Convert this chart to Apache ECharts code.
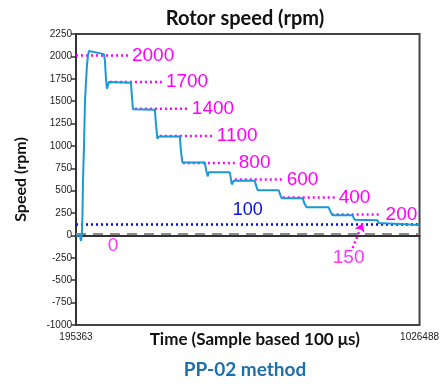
<!DOCTYPE html>
<html><head><meta charset="utf-8">
<script src="https://cdn.jsdelivr.net/npm/echarts@6/dist/echarts.min.js"></script>
<style>html,body{margin:0;padding:0;background:#fff}#c{width:442px;height:384px}</style>
</head><body><div id="c"></div>
<script>
// Main measured curve (time in samples, speed in rpm)
const timeSamples = [195363,205027,207443,209859,211067,212275,214691,217107,219523,221939,224355,226771,229187,
  263011,265427,267843,270259,272675,275091,328243,330659,333075,386227,388643,392267,395891,446627,449043,452667,
  507027,510651,514275,516691,567427,569843,572259,577091,627827,631451,635075,685811,690643,693059,743795,748627,
  753459,806611,811443,816275,864595,869427,925011,927427,929843,1026488];
const speedRpm = [0,0,-60,40,250,600,1000,1500,1720,1900,2010,2060,2075,
  2025,1950,1750,1640,1660,1715,1705,1550,1410,1405,1250,1080,1105,1105,950,815,
  815,720,660,705,705,640,570,612,610,550,505,505,440,415,415,350,
  315,315,260,225,225,175,170,140,120,118];

// Reference (set-point) annotations
const refLabels = ['2000','1700','1400','1100','800','600','400','200'];
const refLevels = [2010,1715,1415,1110,810,625,425,235];
const refStart = [195363,277507,337907,398307,453875,579507,695475,813859];
const refEnd   = [320995,403139,465955,526355,579507,695475,821107,934659];

const xTickLabels = [195363, 1026488];
const yMin = -1000, yMax = 2250, yStep = 250;
const blueRefLabel = '100', blueRefLevel = 120;
const greyRefLevel = 18;
const arrow150 = [[864595,-140],[888755,135]];
const label150Pos = [854931,-245];
const label0Pos = [284755,-112];

const magenta = '#ff00ff';
const series = [];
series.push({
  type:'line', data: timeSamples.map((t,i)=>[t,speedRpm[i]]), showSymbol:false, symbol:'none',
  lineStyle:{color:'#1b98d5', width:2}, z:5,
  markLine:{symbol:'none', silent:true, data:[
    {yAxis: greyRefLevel, lineStyle:{color:'#8a8a8a', type:[10,7], width:2}, label:{show:false}},
    {yAxis: blueRefLevel, lineStyle:{color:'#0010e0', type:[2,3], width:2.5},
      label:{show:true, position:'middle', formatter: blueRefLabel, color:'#0010e0', fontSize:18, fontFamily:'Liberation Sans', distance:6}}
  ]}
});
refLabels.forEach((lab,i)=>{
  series.push({
    type:'line', data:[[refStart[i],refLevels[i]],[refEnd[i],refLevels[i]]], symbol:'none', z:4,
    lineStyle:{color:magenta, type:[2,3], width:2.5},
    endLabel:{show:true, formatter: lab, color:magenta, fontSize:19, fontFamily:'Liberation Sans', distance:4}
  });
});
series.push({
  type:'line', data:[], symbol:'none',
  markLine:{silent:true, symbol:['none','arrow'], symbolSize:8,
    lineStyle:{color:magenta, type:[2,3], width:2.5}, label:{show:false},
    data:[[{coord:arrow150[0]},{coord:arrow150[1]}]]}
});
series.push({
  type:'scatter', symbolSize:0, data:[{value:label150Pos, name:'150'},{value:label0Pos, name:'0'}],
  label:{show:true, position:'inside', formatter:p=>p.name, color:magenta, fontSize:19, fontFamily:'Liberation Sans'}
});

const chart = echarts.init(document.getElementById('c'), null, {renderer:'canvas'});
chart.setOption({
  animation:false,
  title:{text:'Rotor speed (rpm)', left:240, top:4, textAlign:'center',
    textStyle:{fontSize:20, fontWeight:'bold', color:'#111', fontFamily:'Lato'}},
  grid:{left:76, right:22, top:34, bottom:59, show:true, borderColor:'#444', borderWidth:2, backgroundColor:'transparent'},
  xAxis:{type:'value', min:xTickLabels[0], max:xTickLabels[1],
    name:'Time (Sample based 100 μs)', nameLocation:'middle', nameGap:6, nameMoveOverlap:false,
    nameTextStyle:{fontSize:17, fontWeight:'bold', color:'#111', fontFamily:'Lato', padding:[0,0,0,14]},
    axisLine:{lineStyle:{color:'#333', width:2}},
    axisTick:{show:true, customValues:xTickLabels, length:4, lineStyle:{color:'#333'}},
    axisLabel:{customValues:xTickLabels, fontSize:10, color:'#222', fontFamily:'Liberation Sans', margin:7,
      formatter:v=>String(v)},
    splitLine:{show:false}},
  yAxis:{type:'value', min:yMin, max:yMax, interval:yStep,
    name:'Speed (rpm)', nameLocation:'middle', nameGap:47,
    nameTextStyle:{fontSize:16, fontWeight:'bold', color:'#111', fontFamily:'Lato'},
    axisLine:{show:true, lineStyle:{color:'#333', width:2}},
    axisTick:{show:true, length:5, lineStyle:{color:'#333', width:1.5}},
    axisLabel:{fontSize:10, color:'#222', fontFamily:'Liberation Sans', margin:4, formatter:v=>String(v)},
    splitLine:{show:false}},
  graphic:[{type:'text', x:245, y:370, style:{text:'PP-02 method', fill:'#1f6fab',
    font:'bold 19px Lato', align:'center', verticalAlign:'middle'}}],
  series
});
</script></body></html>
